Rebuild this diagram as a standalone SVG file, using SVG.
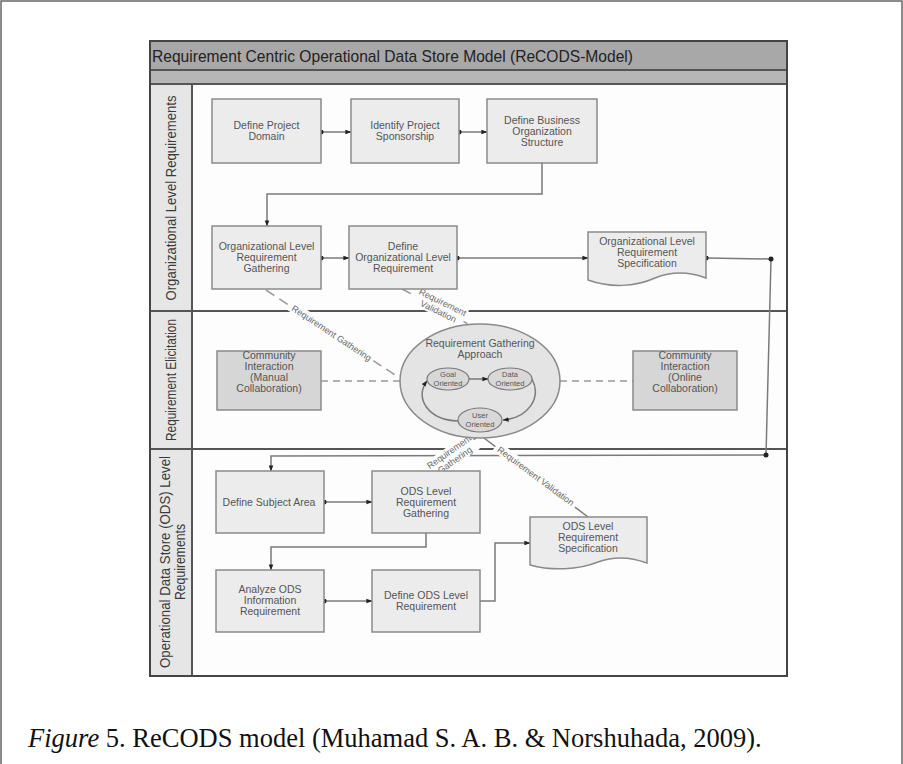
<svg xmlns="http://www.w3.org/2000/svg" width="903" height="764" viewBox="0 0 903 764">
  <defs>
    <marker id="arrow" viewBox="0 0 8 8" refX="7.5" refY="4" markerWidth="6" markerHeight="6" orient="auto" markerUnits="userSpaceOnUse">
      <path d="M0,1 L8,4 L0,7 z" fill="#222"/>
    </marker>
    <marker id="dot" viewBox="0 0 6 6" refX="3" refY="3" markerWidth="5" markerHeight="5" markerUnits="userSpaceOnUse">
      <circle cx="3" cy="3" r="3" fill="#222"/>
    </marker>
    <style>
      .frame { fill: none; stroke: #444; stroke-width: 2; }
      .lane-line { stroke: #555; stroke-width: 2; }
      .box { fill: #ececec; stroke: #8a8a8a; stroke-width: 1.5; }
      .box-dark { fill: #d6d6d6; stroke: #8a8a8a; stroke-width: 1.5; }
      .doc { fill: #ececec; stroke: #8a8a8a; stroke-width: 1.5; }
      .label { font-family: "Liberation Sans", Arial, sans-serif; font-size: 10.5px; fill: #555; text-anchor: middle; }
      .small { font-family: "Liberation Sans", Arial, sans-serif; font-size: 7.5px; fill: #555; text-anchor: middle; }
      .diag { font-family: "Liberation Sans", Arial, sans-serif; font-size: 9px; fill: #666; text-anchor: middle; }
      .lane-label { font-family: "Liberation Sans", Arial, sans-serif; font-size: 15px; fill: #3a3a3a; text-anchor: middle; }
      .title { font-family: "Liberation Sans", Arial, sans-serif; font-size: 17px; fill: #222; }
      .caption { font-family: "Liberation Serif", "Times New Roman", serif; font-size: 26.5px; fill: #111; }
      .conn { fill: none; stroke: #7a7a7a; stroke-width: 1.5; }
      .dash { fill: none; stroke: #999; stroke-width: 1.5; stroke-dasharray: 10 6; }
      .dash-short { fill: none; stroke: #999; stroke-width: 1.5; stroke-dasharray: 7 5; }
      .gap { fill: #fdfdfd; }
    </style>
  </defs>

  <!-- page border -->
  <path d="M1,764 V1 H902 V764" fill="none" stroke="#666" stroke-width="1.5"/>

  <!-- pool background -->
  <rect x="150" y="41" width="637" height="635" fill="#fdfdfd"/>
  <rect x="150" y="84" width="42" height="592" fill="#e6e6e6"/>
  <rect x="150" y="41" width="637" height="29" fill="#a8a8a8"/>
  <rect x="150" y="70" width="637" height="14" fill="#b6b6b6"/>
  <text class="title" x="152" y="62" textLength="481" lengthAdjust="spacingAndGlyphs">Requirement Centric Operational Data Store Model (ReCODS-Model)</text>

  <!-- lane dividers -->
  <line class="lane-line" x1="150" y1="70" x2="787" y2="70"/>
  <line class="lane-line" x1="150" y1="84" x2="787" y2="84"/>
  <line class="lane-line" x1="192" y1="84" x2="192" y2="676"/>
  <line class="lane-line" x1="150" y1="311" x2="787" y2="311"/>
  <line class="lane-line" x1="150" y1="449" x2="787" y2="449"/>
  <rect class="frame" x="150" y="41" width="637" height="635"/>

  <!-- lane labels -->
  <g id="lane-org">
    <text class="lane-label" transform="translate(176,198) rotate(-90)" textLength="205" lengthAdjust="spacingAndGlyphs">Organizational Level Requirements</text>
  </g>
  <g id="lane-elicitation">
    <text class="lane-label" transform="translate(176,380) rotate(-90)" textLength="122" lengthAdjust="spacingAndGlyphs">Requirement Elicitation</text>
  </g>
  <g id="lane-ods">
    <text class="lane-label" transform="translate(170,562) rotate(-90)" textLength="212" lengthAdjust="spacingAndGlyphs">Operational Data Store (ODS) Level</text>
    <text class="lane-label" transform="translate(185,562) rotate(-90)" textLength="76" lengthAdjust="spacingAndGlyphs">Requirements</text>
  </g>

  <!-- connectors -->
  <g id="connectors">
    <path class="conn" d="M321,132 H351" marker-start="url(#dot)" marker-end="url(#arrow)"/>
    <path class="conn" d="M459,132 H487" marker-start="url(#dot)" marker-end="url(#arrow)"/>
    <path class="conn" d="M542,163 V194 H267 V226" marker-end="url(#arrow)"/>
    <path class="conn" d="M321,258 H349" marker-start="url(#dot)" marker-end="url(#arrow)"/>
    <path class="conn" d="M457,258 H588" marker-start="url(#dot)" marker-end="url(#arrow)"/>
    <path class="conn" d="M706,258 L771,259 L766,455 L271,456 V471" marker-start="url(#dot)" marker-end="url(#arrow)"/>
    <circle cx="771" cy="259" r="2.5" fill="#222"/>
    <circle cx="766" cy="455" r="2.5" fill="#222"/>
    <path class="conn" d="M324,502 H372" marker-start="url(#dot)" marker-end="url(#arrow)"/>
    <path class="conn" d="M426,533 V547 H271 V570" marker-end="url(#arrow)"/>
    <path class="conn" d="M324,601 H372" marker-start="url(#dot)" marker-end="url(#arrow)"/>
    <path class="conn" d="M480,601 H495 V543 H530" marker-end="url(#arrow)"/>

    <!-- elicitation links -->
    <path class="dash-short" d="M321,381 H400"/>
    <path class="dash-short" d="M560,381 H633"/>

    <!-- requirement gathering / validation links -->
    <path class="dash" d="M266,290 L398,377"/>
    <g transform="translate(331,334) rotate(33.4)">
      <rect class="gap" x="-50" y="-7" width="100" height="11"/>
      <text class="diag" x="0" y="2">Requirement Gathering</text>
    </g>
    <path class="dash" d="M402,289 L472,326"/>
    <g transform="translate(441,306) rotate(26)">
      <rect class="gap" x="-27" y="-9" width="54" height="20"/>
      <text class="diag" x="0" y="-1">Requirement</text>
      <text class="diag" x="0" y="9">Validation</text>
    </g>
    <path class="conn" d="M476,438 L430,471" stroke="#999"/>
    <g transform="translate(452,456) rotate(-35)">
      <rect class="gap" x="-27" y="-10" width="54" height="20"/>
      <text class="diag" x="0" y="-2">Requirement</text>
      <text class="diag" x="0" y="8">Gathering</text>
    </g>
    <path class="conn" d="M484,438 L588,517" stroke="#999"/>
    <g transform="translate(535,477) rotate(36.5)">
      <rect class="gap" x="-50" y="-7" width="100" height="11"/>
      <text class="diag" x="0" y="2">Requirement Validation</text>
    </g>
  </g>

  <!-- organizational level lane -->
  <g id="define-project-domain">
    <rect class="box" x="212" y="99" width="109" height="64"/>
    <text class="label" x="266.5" y="129">Define Project</text>
    <text class="label" x="266.5" y="140">Domain</text>
  </g>
  <g id="identify-project-sponsorship">
    <rect class="box" x="351" y="99" width="108" height="64"/>
    <text class="label" x="405" y="129">Identify Project</text>
    <text class="label" x="405" y="140">Sponsorship</text>
  </g>
  <g id="define-business-organization-structure">
    <rect class="box" x="487" y="99" width="110" height="64"/>
    <text class="label" x="542" y="124">Define Business</text>
    <text class="label" x="542" y="135">Organization</text>
    <text class="label" x="542" y="146">Structure</text>
  </g>
  <g id="org-level-requirement-gathering">
    <rect class="box" x="212" y="226" width="109" height="63"/>
    <text class="label" x="266.5" y="250">Organizational Level</text>
    <text class="label" x="266.5" y="261">Requirement</text>
    <text class="label" x="266.5" y="272">Gathering</text>
  </g>
  <g id="define-org-level-requirement">
    <rect class="box" x="349" y="226" width="108" height="63"/>
    <text class="label" x="403" y="250">Define</text>
    <text class="label" x="403" y="261">Organizational Level</text>
    <text class="label" x="403" y="272">Requirement</text>
  </g>
  <g id="org-level-requirement-specification">
    <path class="doc" d="M588,232 H706 V278 C690,272 672,271 655,278 C635,287 610,288 588,280 Z"/>
    <text class="label" x="647" y="245">Organizational Level</text>
    <text class="label" x="647" y="256">Requirement</text>
    <text class="label" x="647" y="267">Specification</text>
  </g>

  <!-- requirement elicitation lane -->
  <g id="community-manual">
    <rect class="box-dark" x="217" y="351" width="104" height="59"/>
    <text class="label" x="269" y="359">Community</text>
    <text class="label" x="269" y="370">Interaction</text>
    <text class="label" x="269" y="381">(Manual</text>
    <text class="label" x="269" y="392">Collaboration)</text>
  </g>
  <g id="requirement-gathering-approach">
    <ellipse cx="480" cy="381" rx="80" ry="57" fill="#e4e4e4" stroke="#8a8a8a" stroke-width="1.5"/>
    <text class="label" x="480" y="347">Requirement Gathering</text>
    <text class="label" x="480" y="358">Approach</text>
    <path class="conn" d="M469,379 H488" marker-end="url(#arrow)"/>
    <path class="conn" d="M532,379 C542,398 528,418 503,420" marker-end="url(#arrow)"/>
    <path class="conn" d="M458,421 C428,420 414,398 427,381" marker-end="url(#arrow)"/>
    <g id="goal-oriented">
      <ellipse cx="448" cy="379" rx="21" ry="11" fill="#d8d8d8" stroke="#7a7a7a" stroke-width="1.2"/>
      <text class="small" x="448" y="377">Goal</text>
      <text class="small" x="448" y="386">Oriented</text>
    </g>
    <g id="data-oriented">
      <ellipse cx="510" cy="379" rx="22" ry="11" fill="#d8d8d8" stroke="#7a7a7a" stroke-width="1.2"/>
      <text class="small" x="510" y="377">Data</text>
      <text class="small" x="510" y="386">Oriented</text>
    </g>
    <g id="user-oriented">
      <ellipse cx="480" cy="420" rx="22" ry="12" fill="#d8d8d8" stroke="#7a7a7a" stroke-width="1.2"/>
      <text class="small" x="480" y="418">User</text>
      <text class="small" x="480" y="427">Oriented</text>
    </g>
  </g>
  <g id="community-online">
    <rect class="box-dark" x="633" y="351" width="104" height="59"/>
    <text class="label" x="685" y="359">Community</text>
    <text class="label" x="685" y="370">Interaction</text>
    <text class="label" x="685" y="381">(Online</text>
    <text class="label" x="685" y="392">Collaboration)</text>
  </g>

  <!-- ODS level lane -->
  <g id="define-subject-area">
    <rect class="box" x="216" y="471" width="108" height="62"/>
    <text class="label" x="269" y="506">Define Subject Area</text>
  </g>
  <g id="ods-level-requirement-gathering">
    <rect class="box" x="372" y="471" width="108" height="62"/>
    <text class="label" x="426" y="495">ODS Level</text>
    <text class="label" x="426" y="506">Requirement</text>
    <text class="label" x="426" y="517">Gathering</text>
  </g>
  <g id="analyze-ods-information-requirement">
    <rect class="box" x="216" y="570" width="108" height="62"/>
    <text class="label" x="270" y="593">Analyze ODS</text>
    <text class="label" x="270" y="604">Information</text>
    <text class="label" x="270" y="615">Requirement</text>
  </g>
  <g id="define-ods-level-requirement">
    <rect class="box" x="372" y="570" width="108" height="62"/>
    <text class="label" x="426" y="599">Define ODS Level</text>
    <text class="label" x="426" y="610">Requirement</text>
  </g>
  <g id="ods-level-requirement-specification">
    <path class="doc" d="M530,517 H647 V563 C631,557 614,556 598,562 C578,570 552,571 530,565 Z"/>
    <text class="label" x="588" y="530">ODS Level</text>
    <text class="label" x="588" y="541">Requirement</text>
    <text class="label" x="588" y="552">Specification</text>
  </g>

  <!-- caption -->
  <text class="caption" x="28" y="747"><tspan font-style="italic">Figure</tspan> 5. ReCODS model (Muhamad S. A. B. &amp; Norshuhada, 2009).</text>
</svg>
